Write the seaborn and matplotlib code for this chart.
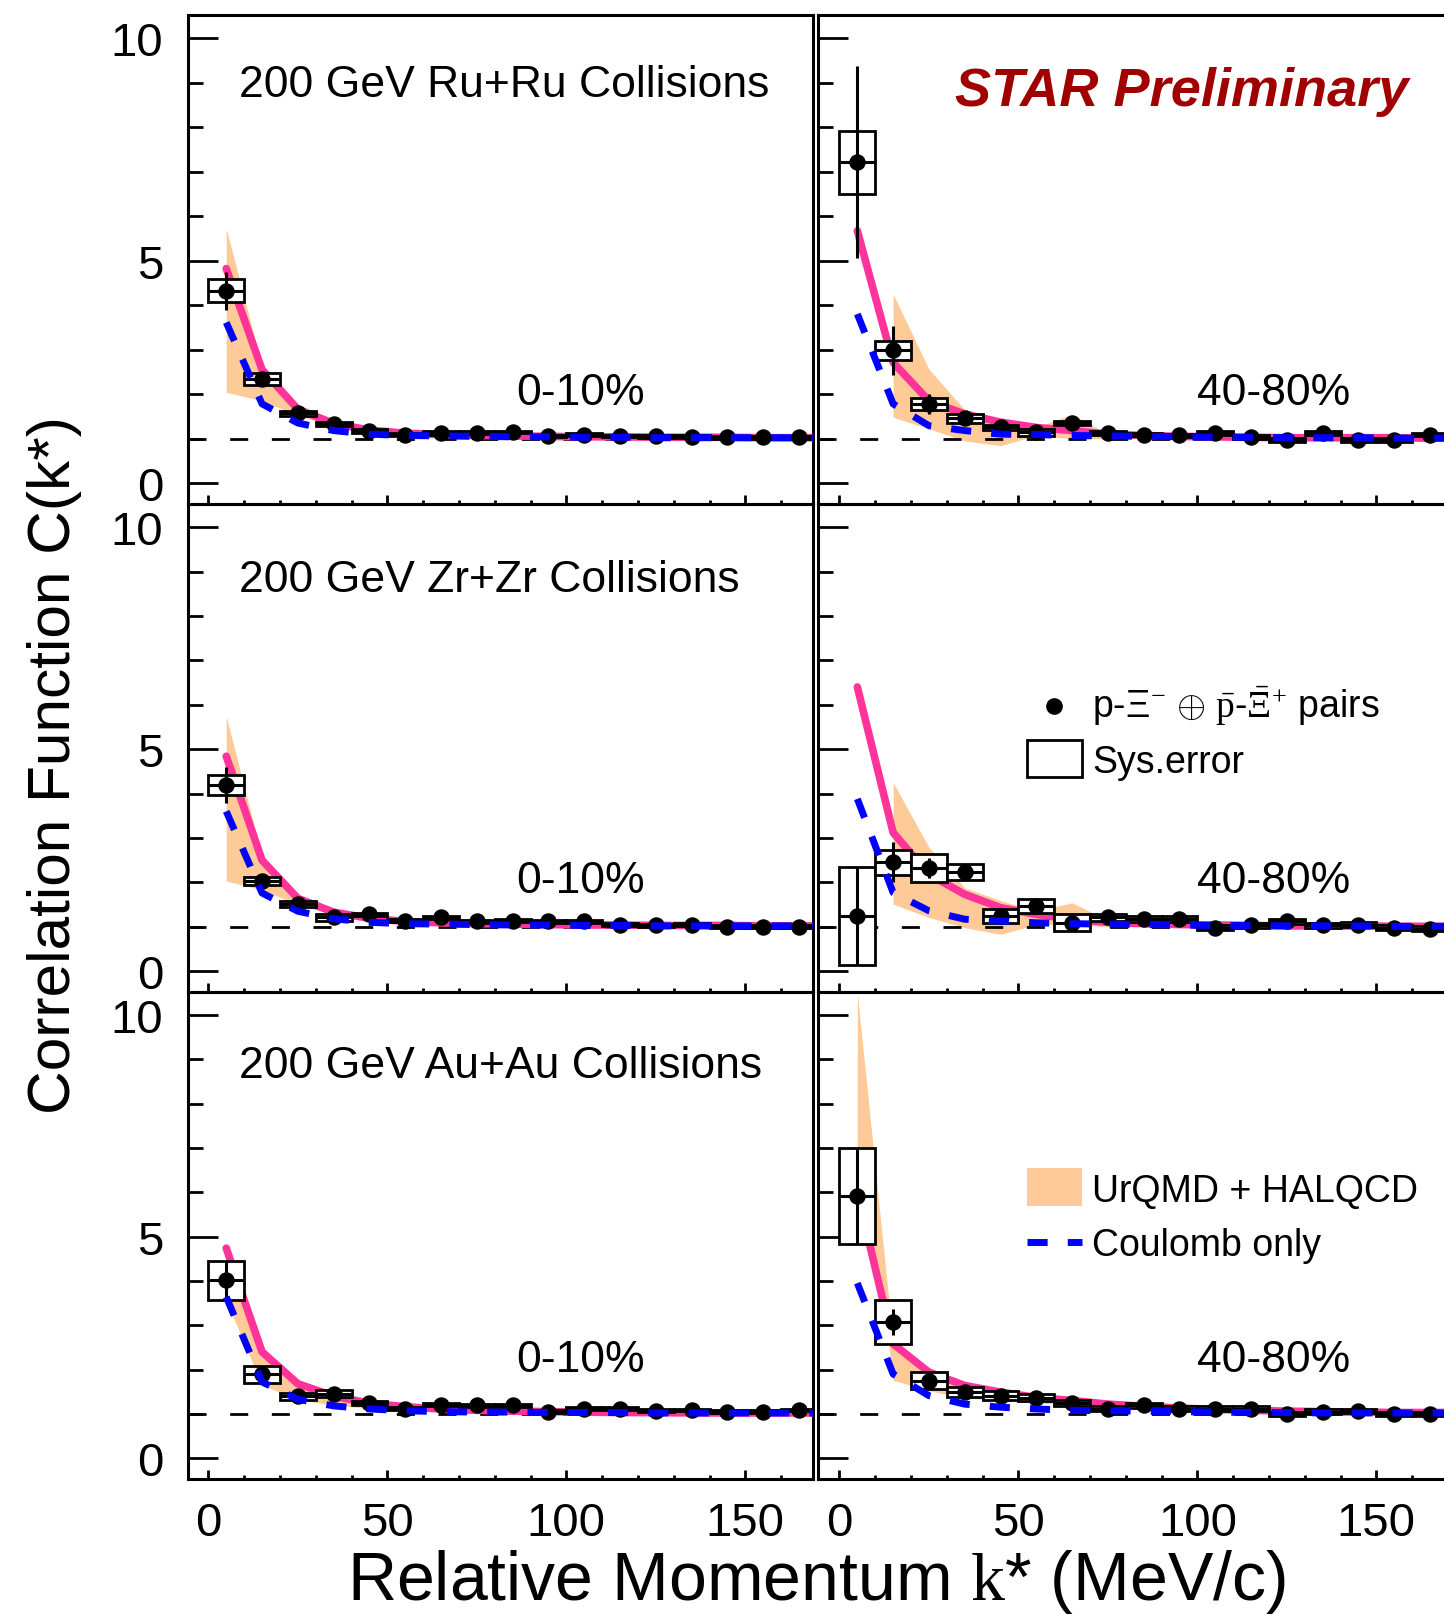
import numpy as np
import matplotlib
matplotlib.use("Agg")
import matplotlib.pyplot as plt
from matplotlib.patches import Rectangle
from matplotlib.lines import Line2D
from matplotlib.ticker import MultipleLocator
import seaborn as sns

# ---------------------------------------------------------------- data
# k* bin centres (MeV/c) of the measured correlation function
K_BINS = [5, 15, 25, 35, 45, 55, 65, 75, 85, 95, 105, 115, 125, 135, 145, 155, 165]
# grid of the model calculations
K_MODEL = [5, 15, 25, 35, 45, 55, 65, 75, 85, 95, 105, 115, 125, 135, 145, 155, 165, 175]

# Ru+Ru 0-10%
RU_010_C = [4.32, 2.34, 1.57, 1.33, 1.17, 1.09, 1.13, 1.13, 1.15, 1.06, 1.09, 1.06, 1.05, 1.04, 1.03, 1.03, 1.03]
RU_010_STAT = [0.42, 0.10, 0.06, 0.05, 0.04, 0.04, 0.03, 0.03, 0.03, 0.03, 0.03, 0.03, 0.03, 0.03, 0.03, 0.03, 0.03]
RU_010_SYS = [0.26, 0.13, 0.06, 0.05, 0.04, 0.04, 0.04, 0.03, 0.03, 0.03, 0.03, 0.03, 0.03, 0.03, 0.03, 0.03, 0.03]
RU_010_URQMD = [4.82, 2.55, 1.66, 1.34, 1.19, 1.12, 1.09, 1.07, 1.06, 1.05, 1.04, 1.04, 1.03, 1.03, 1.03, 1.02, 1.02, 1.02]
RU_010_BAND_HI = [5.72, 2.62, 1.70, 1.37, 1.21, 1.13, 1.10, 1.08, 1.07, 1.06, 1.05, 1.05, 1.04, 1.04, 1.04, 1.03, 1.03, 1.03]
RU_010_BAND_LO = [2.04, 1.85, 1.52, 1.28, 1.15, 1.09, 1.07, 1.05, 1.04, 1.03, 1.03, 1.02, 1.02, 1.02, 1.02, 1.01, 1.01, 1.01]
RU_010_COULOMB = [3.61, 1.78, 1.35, 1.18, 1.10, 1.07, 1.06, 1.05, 1.04, 1.04, 1.03, 1.03, 1.02, 1.02, 1.02, 1.02, 1.02, 1.02]

# Ru+Ru 40-80%
RU_4080_C = [7.21, 2.98, 1.78, 1.46, 1.25, 1.14, 1.35, 1.13, 1.09, 1.07, 1.13, 1.04, 0.97, 1.13, 0.97, 0.97, 1.09]
RU_4080_STAT = [2.16, 0.55, 0.22, 0.12, 0.08, 0.07, 0.06, 0.05, 0.05, 0.04, 0.04, 0.04, 0.04, 0.04, 0.04, 0.04, 0.04]
RU_4080_SYS = [0.71, 0.22, 0.14, 0.10, 0.06, 0.08, 0.05, 0.04, 0.04, 0.04, 0.04, 0.04, 0.04, 0.04, 0.04, 0.04, 0.04]
RU_4080_URQMD = [5.67, 2.71, 1.85, 1.55, 1.37, 1.25, 1.18, 1.10, 1.07, 1.05, 1.04, 1.03, 1.02, 1.02, 1.02, 1.02, 1.01, 1.01]
RU_4080_BAND_HI = [np.nan, 4.25, 2.56, 1.65, 1.44, 1.25, 1.55, 1.10, 1.07, 1.05, 1.04, 1.03, 1.02, 1.02, 1.02, 1.02, 1.01, 1.01]
RU_4080_BAND_LO = [np.nan, 1.48, 1.22, 0.95, 0.84, 1.07, 1.00, 1.00, 1.01, 1.01, 1.01, 1.01, 1.00, 1.00, 1.00, 1.00, 1.00, 1.00]
RU_4080_COULOMB = [3.80, 1.78, 1.29, 1.18, 1.10, 1.09, 1.07, 1.06, 1.05, 1.04, 1.03, 1.03, 1.02, 1.02, 1.02, 1.01, 1.01, 1.01]

# Zr+Zr 0-10%
ZR_010_C = [4.19, 2.03, 1.51, 1.21, 1.28, 1.14, 1.21, 1.12, 1.14, 1.12, 1.12, 1.05, 1.03, 1.05, 1.00, 1.00, 1.00]
ZR_010_STAT = [0.40, 0.10, 0.06, 0.05, 0.04, 0.04, 0.03, 0.03, 0.03, 0.03, 0.03, 0.03, 0.03, 0.03, 0.03, 0.03, 0.03]
ZR_010_SYS = [0.22, 0.10, 0.07, 0.07, 0.04, 0.04, 0.04, 0.03, 0.03, 0.03, 0.03, 0.03, 0.03, 0.03, 0.03, 0.03, 0.03]
ZR_010_URQMD = [4.84, 2.50, 1.64, 1.33, 1.19, 1.12, 1.09, 1.07, 1.06, 1.05, 1.04, 1.04, 1.03, 1.03, 1.03, 1.02, 1.02, 1.02]
ZR_010_BAND_HI = [5.74, 2.58, 1.68, 1.36, 1.21, 1.13, 1.10, 1.08, 1.07, 1.06, 1.05, 1.05, 1.04, 1.04, 1.04, 1.03, 1.03, 1.03]
ZR_010_BAND_LO = [2.03, 1.83, 1.50, 1.27, 1.15, 1.09, 1.07, 1.05, 1.04, 1.03, 1.03, 1.02, 1.02, 1.02, 1.02, 1.01, 1.01, 1.01]
ZR_010_COULOMB = [3.60, 1.76, 1.35, 1.18, 1.10, 1.07, 1.06, 1.05, 1.04, 1.04, 1.03, 1.03, 1.02, 1.02, 1.02, 1.02, 1.02, 1.02]

# Zr+Zr 40-80%
ZR_4080_C = [1.24, 2.45, 2.32, 2.24, 1.24, 1.47, 1.09, 1.21, 1.17, 1.17, 0.98, 1.03, 1.12, 1.03, 1.05, 0.98, 0.96]
ZR_4080_STAT = [1.10, 0.45, 0.22, 0.12, 0.08, 0.08, 0.07, 0.06, 0.05, 0.05, 0.05, 0.05, 0.05, 0.05, 0.05, 0.05, 0.05]
ZR_4080_SYS = [1.11, 0.29, 0.32, 0.18, 0.15, 0.16, 0.19, 0.07, 0.07, 0.07, 0.05, 0.05, 0.05, 0.05, 0.05, 0.05, 0.05]
ZR_4080_URQMD = [6.40, 3.12, 2.18, 1.73, 1.43, 1.28, 1.17, 1.10, 1.07, 1.05, 1.04, 1.03, 1.02, 1.02, 1.02, 1.01, 1.01, 1.01]
ZR_4080_BAND_HI = [np.nan, 4.25, 2.79, 1.88, 1.59, 1.36, 1.54, 1.15, 1.07, 1.05, 1.04, 1.03, 1.02, 1.02, 1.02, 1.01, 1.01, 1.01]
ZR_4080_BAND_LO = [np.nan, 1.51, 1.21, 0.98, 0.83, 1.05, 1.05, 1.00, 1.01, 1.01, 1.01, 1.00, 1.00, 1.00, 1.00, 1.00, 1.00, 1.00]
ZR_4080_COULOMB = [3.88, 1.77, 1.36, 1.17, 1.13, 1.09, 1.07, 1.06, 1.05, 1.04, 1.03, 1.03, 1.02, 1.02, 1.02, 1.01, 1.01, 1.01]

# Au+Au 0-10%
AU_010_C = [4.02, 1.89, 1.40, 1.45, 1.24, 1.12, 1.21, 1.19, 1.19, 1.05, 1.12, 1.12, 1.07, 1.09, 1.05, 1.05, 1.09]
AU_010_STAT = [0.42, 0.12, 0.06, 0.05, 0.04, 0.04, 0.03, 0.03, 0.03, 0.03, 0.03, 0.03, 0.03, 0.03, 0.03, 0.03, 0.03]
AU_010_SYS = [0.44, 0.20, 0.08, 0.08, 0.05, 0.04, 0.04, 0.03, 0.03, 0.03, 0.03, 0.03, 0.03, 0.03, 0.03, 0.03, 0.03]
AU_010_URQMD = [4.74, 2.40, 1.68, 1.40, 1.24, 1.16, 1.11, 1.08, 1.06, 1.05, 1.04, 1.03, 1.03, 1.02, 1.02, 1.02, 1.02, 1.02]
AU_010_BAND_HI = [4.78, 2.44, 1.71, 1.42, 1.26, 1.17, 1.12, 1.09, 1.07, 1.06, 1.05, 1.04, 1.04, 1.03, 1.03, 1.03, 1.03, 1.03]
AU_010_BAND_LO = [3.55, 1.65, 1.32, 1.20, 1.12, 1.08, 1.06, 1.05, 1.04, 1.03, 1.03, 1.02, 1.02, 1.02, 1.02, 1.01, 1.01, 1.01]
AU_010_COULOMB = [3.64, 1.72, 1.33, 1.18, 1.11, 1.07, 1.05, 1.04, 1.04, 1.03, 1.03, 1.03, 1.02, 1.02, 1.02, 1.02, 1.02, 1.02]

# Au+Au 40-80%
AU_4080_C = [5.91, 3.07, 1.75, 1.49, 1.41, 1.36, 1.24, 1.12, 1.19, 1.12, 1.12, 1.12, 1.00, 1.05, 1.07, 1.00, 1.00]
AU_4080_STAT = [1.08, 0.30, 0.12, 0.08, 0.06, 0.06, 0.05, 0.05, 0.05, 0.05, 0.05, 0.05, 0.05, 0.05, 0.05, 0.05, 0.05]
AU_4080_SYS = [1.08, 0.50, 0.19, 0.11, 0.10, 0.08, 0.07, 0.05, 0.05, 0.05, 0.05, 0.05, 0.05, 0.05, 0.05, 0.05, 0.05]
AU_4080_URQMD = [6.00, 2.58, 1.94, 1.64, 1.49, 1.37, 1.30, 1.22, 1.17, 1.13, 1.10, 1.08, 1.06, 1.05, 1.04, 1.03, 1.03, 1.03]
AU_4080_BAND_K = [5, 13, 15, 25, 35, 45, 55, 65, 75, 85, 95, 105, 115, 125, 135, 145, 155, 165, 175]
AU_4080_BAND_HI = [10.49, 4.20, 2.65, 1.97, 1.67, 1.51, 1.39, 1.31, 1.23, 1.18, 1.14, 1.11, 1.09, 1.07, 1.06, 1.05, 1.04, 1.04, 1.04]
AU_4080_BAND_LO = [6.00, 3.10, 1.76, 1.52, 1.36, 1.30, 1.25, 1.20, 1.15, 1.11, 1.08, 1.06, 1.05, 1.04, 1.03, 1.02, 1.02, 1.02, 1.02]
AU_4080_COULOMB = [3.95, 1.90, 1.41, 1.22, 1.15, 1.11, 1.08, 1.07, 1.06, 1.05, 1.04, 1.03, 1.03, 1.02, 1.02, 1.02, 1.02, 1.02]

SYSTEM_LABELS = ["200 GeV Ru+Ru Collisions", "200 GeV Zr+Zr Collisions", "200 GeV Au+Au Collisions"]
CENTRALITY_LABELS = ["0-10%", "40-80%"]

# ---------------------------------------------------------------- style
sns.set_style("ticks")
plt.rcParams["font.family"] = ["Liberation Sans", "DejaVu Sans"]
plt.rcParams["mathtext.fontset"] = "custom"
plt.rcParams["mathtext.rm"] = "Liberation Serif"
plt.rcParams["mathtext.it"] = "Liberation Serif:italic"
for key in ("text.color", "axes.labelcolor", "xtick.color", "ytick.color", "axes.edgecolor"):
    plt.rcParams[key] = "black"

PINK = "#ff3399"
ORANGE = "#fdca98"
BLUE = "#0000ff"
STAR_RED = "#a00000"
FRAME_LW = 2.2
LEGEND_FS = 27

fig = plt.figure(figsize=(14.44, 16.15), dpi=100)

COL_LEFT = [0.1304, 0.5667]
COL_WIDTH = [0.4326, 0.4333]
ROW_BOTTOM = [0.6873, 0.3851, 0.0836]
ROW_HEIGHT = [0.3028, 0.3022, 0.3015]
X_LIMITS = [(-5.6, 168.9), (-5.9, 168.9)]
Y_LIMITS = (-0.47, 10.52)

panels = [
    [(RU_010_C, RU_010_STAT, RU_010_SYS, RU_010_URQMD, K_MODEL, RU_010_BAND_LO, RU_010_BAND_HI, RU_010_COULOMB),
     (RU_4080_C, RU_4080_STAT, RU_4080_SYS, RU_4080_URQMD, K_MODEL, RU_4080_BAND_LO, RU_4080_BAND_HI, RU_4080_COULOMB)],
    [(ZR_010_C, ZR_010_STAT, ZR_010_SYS, ZR_010_URQMD, K_MODEL, ZR_010_BAND_LO, ZR_010_BAND_HI, ZR_010_COULOMB),
     (ZR_4080_C, ZR_4080_STAT, ZR_4080_SYS, ZR_4080_URQMD, K_MODEL, ZR_4080_BAND_LO, ZR_4080_BAND_HI, ZR_4080_COULOMB)],
    [(AU_010_C, AU_010_STAT, AU_010_SYS, AU_010_URQMD, K_MODEL, AU_010_BAND_LO, AU_010_BAND_HI, AU_010_COULOMB),
     (AU_4080_C, AU_4080_STAT, AU_4080_SYS, AU_4080_URQMD, AU_4080_BAND_K, AU_4080_BAND_LO, AU_4080_BAND_HI, AU_4080_COULOMB)],
]

# label positions in axes fractions (per row)
SYS_TEXT_Y = [0.834, 0.822, 0.825]
CENT_TEXT_Y = [0.205, 0.205, 0.221]

axes = {}
for r in range(3):
    for c in range(2):
        ax = fig.add_axes([COL_LEFT[c], ROW_BOTTOM[r], COL_WIDTH[c], ROW_HEIGHT[r]])
        axes[(r, c)] = ax
        C, STAT, SYS, URQMD, BAND_K, LO, HI, COUL = panels[r][c]

        # model band
        ax.fill_between(BAND_K, LO, HI, color=ORANGE, lw=0, zorder=1)
        # unity reference
        ax.axhline(1.0, color="black", lw=2, dashes=(6.5, 8.5), zorder=2)
        # UrQMD + HALQCD central curve
        sns.lineplot(x=K_MODEL, y=URQMD, ax=ax, color=PINK, lw=5.5,
                     estimator=None, sort=False, zorder=3)
        # systematic boxes
        for k, v, s in zip(K_BINS, C, SYS):
            ax.add_patch(Rectangle((k - 5, v - s), 10, 2 * s, facecolor="white",
                                   edgecolor="black", lw=2, zorder=4))
        # statistical error bars
        ax.errorbar(K_BINS, C, xerr=5, yerr=STAT, fmt="none", ecolor="black",
                    elinewidth=2.2, capsize=0, zorder=5)
        sns.scatterplot(x=K_BINS, y=C, ax=ax, color="black", s=140,
                        linewidth=0, zorder=6)
        # Coulomb-only curve
        sns.lineplot(x=K_MODEL, y=COUL, ax=ax, color=BLUE, lw=5,
                     estimator=None, sort=False, zorder=7)
        ax.lines[-1].set_dashes((2.9, 2.9))

        ax.set_xlim(*X_LIMITS[c])
        ax.set_ylim(*Y_LIMITS)
        ax.set_xlabel("")
        ax.set_ylabel("")
        ax.xaxis.set_major_locator(MultipleLocator(50))
        ax.xaxis.set_minor_locator(MultipleLocator(10))
        ax.yaxis.set_major_locator(MultipleLocator(5))
        ax.yaxis.set_minor_locator(MultipleLocator(1))
        ax.tick_params(axis="y", which="major", direction="in", length=21.6, width=2,
                       left=True, right=False, labelleft=(c == 0), labelsize=34, pad=18)
        ax.tick_params(axis="y", which="minor", direction="in", length=10.8, width=2,
                       left=True, right=False)
        ax.tick_params(axis="x", which="major", direction="in", length=6.5, width=2,
                       bottom=True, top=False, labelbottom=(r == 2), labelsize=34, pad=16)
        ax.tick_params(axis="x", which="minor", direction="in", length=3.2, width=2,
                       bottom=True, top=False)
        for side, sp in ax.spines.items():
            sp.set_linewidth(FRAME_LW)
            sp.set_color("black")
        if c == 1:
            ax.spines["right"].set_visible(False)
        ax.set_facecolor("none")

        if c == 0:
            ax.text(0.0815, SYS_TEXT_Y[r], SYSTEM_LABELS[r], transform=ax.transAxes,
                    fontsize=32, ha="left", va="baseline")
            ax.text(0.5256, CENT_TEXT_Y[r], CENTRALITY_LABELS[0], transform=ax.transAxes,
                    fontsize=32, ha="left", va="baseline")
        else:
            ax.text(0.605, CENT_TEXT_Y[r], CENTRALITY_LABELS[1], transform=ax.transAxes,
                    fontsize=32, ha="left", va="baseline")

# STAR Preliminary tag
axes[(0, 1)].text(0.944, 0.8156, "STAR Preliminary", transform=axes[(0, 1)].transAxes,
                  fontsize=39, fontweight="bold", fontstyle="italic", color=STAR_RED,
                  ha="right", va="baseline")

# legend: data and systematic error
axl = axes[(1, 1)]
axl.add_line(Line2D([0.3765], [0.587], marker="o", color="black", markersize=11,
                    linestyle="none", transform=axl.transAxes, zorder=10))
axl.text(0.4374, 0.5635,
         "p-\u039e$^{-}$ $\\oplus$ $\\bar{\\mathrm{p}}$-$\\bar{\\Xi}^{+}$ pairs",
         transform=axl.transAxes, fontsize=LEGEND_FS, ha="left", va="baseline")
axl.add_patch(Rectangle((0.3337, 0.4412), 0.0872, 0.076, facecolor="white", edgecolor="black",
                        lw=2, transform=axl.transAxes, zorder=10))
axl.text(0.4374, 0.4518, "Sys.error", transform=axl.transAxes, fontsize=LEGEND_FS,
         ha="left", va="baseline")

# legend: models
axm = axes[(2, 1)]
axm.add_patch(Rectangle((0.3337, 0.5615), 0.0872, 0.078, facecolor=ORANGE, edgecolor="none",
                        transform=axm.transAxes, zorder=10))
axm.text(0.4374, 0.5717, "UrQMD + HALQCD", transform=axm.transAxes, fontsize=LEGEND_FS,
         ha="left", va="baseline")
leg_line = Line2D([0.3332, 0.4211], [0.4877, 0.4877], color=BLUE, lw=5,
                  transform=axm.transAxes, zorder=10)
leg_line.set_dashes((2.9, 2.9))
axm.add_line(leg_line)
axm.text(0.4374, 0.4598, "Coulomb only", transform=axm.transAxes, fontsize=LEGEND_FS,
         ha="left", va="baseline")

# axis titles
fig.text(0.0374, 1 - 765 / 1615, "Correlation Function C(k*)", rotation=90,
         fontsize=43.5, ha="center", va="center")
fig.text(0.5655, 0.0093, "Relative Momentum $\\mathrm{k}$* (MeV/c)",
         fontsize=49, ha="center", va="baseline")

fig.savefig("out.png", dpi=100)
